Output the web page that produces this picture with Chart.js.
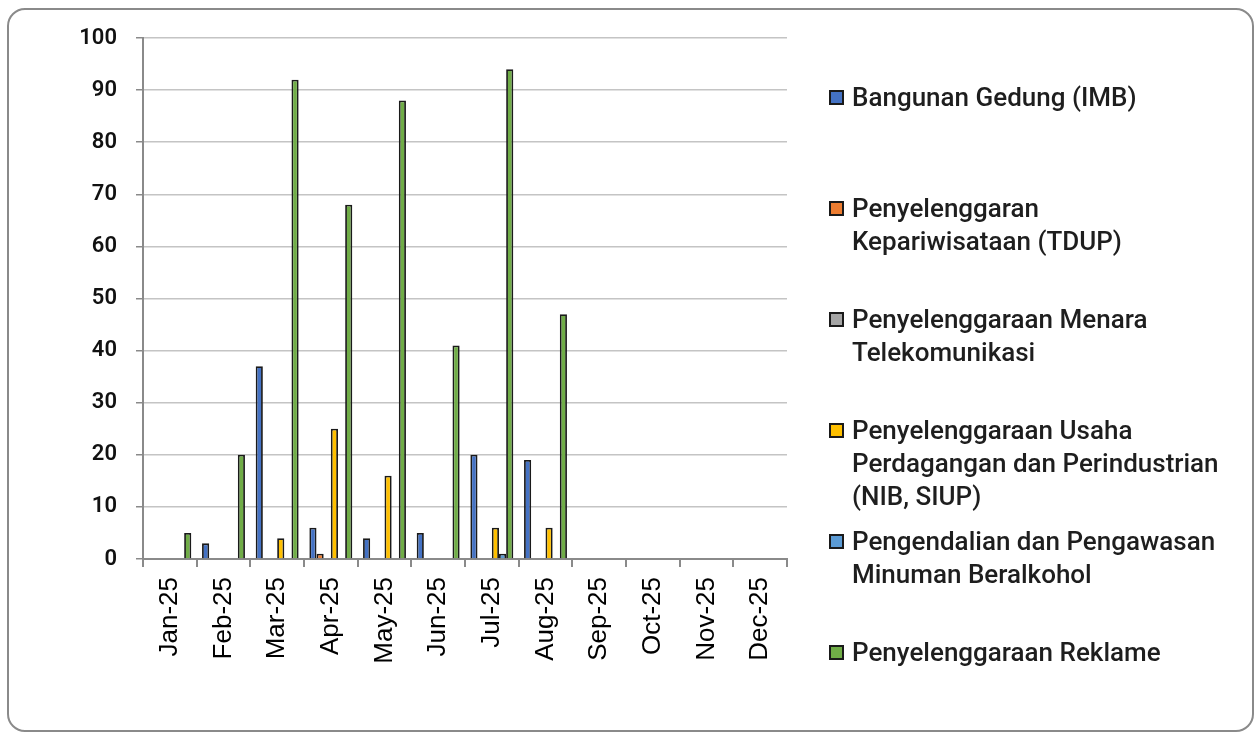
<!DOCTYPE html>
<html>
<head>
<meta charset="utf-8">
<script src="https://cdn.jsdelivr.net/npm/chart.js@4"></script>
<style>
  html, body { margin: 0; padding: 0; background: #fff; }
  .wrap { position: relative; width: 1258px; height: 735px; overflow: hidden; }
  .frame { position: absolute; left: 7px; top: 8px; width: 1247px; height: 724px;
           border: 2px solid #8a8a8a; border-radius: 18px; box-sizing: border-box; }
  canvas { position: absolute; left: 0; top: 0; }
  .legend { position: absolute; left: 0; top: 0; font-family: Roboto, sans-serif;
            font-size: 26px; font-weight: 500; color: #1e1e1e; }
  .item { position: absolute; left: 829px; line-height: 33px; }
  .box { position: absolute; left: 0; top: 9px; width: 15px; height: 15px;
         box-sizing: border-box; border: 2px solid #1a1a1a; }
  .txt { position: absolute; left: 23px; top: 0; white-space: nowrap; }
</style>
</head>
<body>
<div class="wrap">
  <div class="frame"></div>
  <canvas id="chart" width="1258" height="735"></canvas>
  <div class="legend" id="legend"></div>
</div>
<script>
// categories
const months = ['Jan-25', 'Feb-25', 'Mar-25', 'Apr-25', 'May-25', 'Jun-25',
                'Jul-25', 'Aug-25', 'Sep-25', 'Oct-25', 'Nov-25', 'Dec-25'];

// series names (legend lines)
const seriesNames = [
  ['Bangunan Gedung (IMB)'],
  ['Penyelenggaran', 'Kepariwisataan (TDUP)'],
  ['Penyelenggaraan Menara', 'Telekomunikasi'],
  ['Penyelenggaraan Usaha', 'Perdagangan dan Perindustrian', '(NIB, SIUP)'],
  ['Pengendalian dan Pengawasan', 'Minuman Beralkohol'],
  ['Penyelenggaraan Reklame']
];

// series values
const imb          = [0, 3, 37, 6, 4, 5, 20, 19, 0, 0, 0, 0];
const tdup         = [0, 0, 0, 1, 0, 0, 0, 0, 0, 0, 0, 0];
const menara       = [0, 0, 0, 0, 0, 0, 0, 0, 0, 0, 0, 0];
const usaha        = [0, 0, 4, 25, 16, 0, 6, 6, 0, 0, 0, 0];
const minol        = [0, 0, 0, 0, 0, 0, 1, 0, 0, 0, 0, 0];
const reklame      = [5, 20, 92, 68, 88, 41, 94, 47, 0, 0, 0, 0];

const colors = ['#4472C4', '#ED7D31', '#A5A5A5', '#FFC000', '#5B9BD5', '#70AD47'];
const values = [imb, tdup, menara, usaha, minol, reklame];

const datasets = values.map((v, i) => ({
  label: seriesNames[i].join(' '),
  data: v,
  backgroundColor: colors[i],
  borderColor: '#1a1a1a',
  borderWidth: 1.8,
  inflateAmount: 0,
  barPercentage: 1,
  categoryPercentage: 0.8
}));

const axisGray = '#8a8a8a';

new Chart(document.getElementById('chart'), {
  type: 'bar',
  data: { labels: months, datasets: datasets },
  options: {
    responsive: false,
    animation: false,
    layout: { padding: { left: 0, top: 38, right: 471, bottom: 0 } },
    plugins: { legend: { display: false }, tooltip: { enabled: false } },
    scales: {
      x: {
        offset: true,
        grid: { display: true, drawOnChartArea: false, offset: true,
                color: axisGray, lineWidth: 2, tickLength: 8 },
        border: { display: true, color: axisGray, width: 2 },
        ticks: { autoSkip: false, minRotation: 90, maxRotation: 90, padding: 10,
                 color: '#000', font: { family: '"Liberation Sans", Arial, sans-serif', size: 26 } },
        afterFit: s => { s.height = 176; }
      },
      y: {
        min: 0, max: 100,
        grid: { color: '#c4c4c4', lineWidth: 1.5, tickLength: 7, tickColor: axisGray },
        border: { display: true, color: axisGray, width: 2 },
        ticks: { stepSize: 10, padding: 19, color: '#111',
                 font: { family: 'Roboto, sans-serif', size: 22, weight: '600' } },
        afterFit: s => { s.width = 143; }
      }
    }
  }
});

// legend
const legend = document.getElementById('legend');
seriesNames.forEach((lines, i) => {
  const item = document.createElement('div');
  item.className = 'item';
  item.style.top = (97 + i * 111 - 16.5) + 'px';
  const box = document.createElement('div');
  box.className = 'box';
  box.style.background = colors[i];
  const txt = document.createElement('div');
  txt.className = 'txt';
  txt.innerHTML = lines.join('<br>');
  item.appendChild(box);
  item.appendChild(txt);
  legend.appendChild(item);
});
</script>
</body>
</html>
